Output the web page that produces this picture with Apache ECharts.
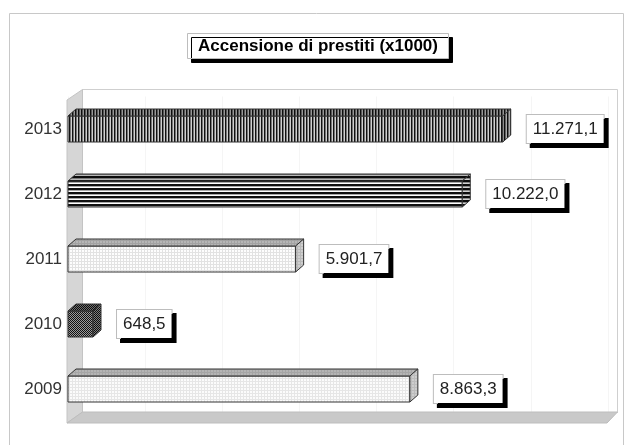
<!DOCTYPE html>
<html>
<head>
<meta charset="utf-8">
<script src="https://cdn.jsdelivr.net/npm/echarts@6/dist/echarts.min.js"></script>
<style>
html,body{margin:0;padding:0;background:#fff;}
#chart{width:627px;height:445px;}
</style>
</head>
<body>
<div id="chart"></div>
<script>
// ---- data ----
const titleText = 'Accensione di prestiti (x1000)';
const years = ['2009', '2010', '2011', '2012', '2013'];
const values = [8863.3, 648.5, 5901.7, 10222.0, 11271.1];
const axisMin = 0;
const axisMax = 14000;
const axisStep = 2000;

// ---- styles ----
const patternKinds = ['lightdots2', 'darkdots', 'lightdots', 'hstripe', 'vstripe'];
const FONT = '"Liberation Sans", Arial, sans-serif';

function makePattern(kind) {
  const c = document.createElement('canvas');
  const ctx = c.getContext('2d');
  if (kind === 'vstripe') {
    c.width = 3; c.height = 3;
    ctx.fillStyle = '#d0d0d0'; ctx.fillRect(0, 0, 3, 3);
    ctx.fillStyle = '#111'; ctx.fillRect(0, 0, 1, 3);
    ctx.fillStyle = '#777'; ctx.fillRect(1, 0, 1, 3);
  } else if (kind === 'hstripe') {
    c.width = 4; c.height = 4;
    ctx.fillStyle = '#fff'; ctx.fillRect(0, 0, 4, 4);
    ctx.fillStyle = '#111'; ctx.fillRect(0, 0, 4, 2);
    ctx.fillStyle = '#aaa'; ctx.fillRect(0, 2, 4, 1);
  } else if (kind === 'darkdots') {
    c.width = 2; c.height = 2;
    ctx.fillStyle = '#9a9a9a'; ctx.fillRect(0, 0, 2, 2);
    ctx.fillStyle = '#111'; ctx.fillRect(0, 0, 1, 1); ctx.fillRect(1, 1, 1, 1);
  } else if (kind === 'lightdots') {
    c.width = 3; c.height = 3;
    ctx.fillStyle = '#fdfdfd'; ctx.fillRect(0, 0, 3, 3);
    ctx.fillStyle = '#e2e2e2'; ctx.fillRect(0, 0, 3, 1); ctx.fillRect(0, 0, 1, 3);
  } else {
    c.width = 3; c.height = 3;
    ctx.fillStyle = '#fbfbfb'; ctx.fillRect(0, 0, 3, 3);
    ctx.fillStyle = '#e6e6e6'; ctx.fillRect(0, 0, 3, 1); ctx.fillRect(0, 0, 1, 3);
  }
  return c;
}
const patterns = patternKinds.map(k => ({ image: makePattern(k), repeat: 'repeat' }));

function fmtIt(v) {
  const parts = v.toFixed(1).split('.');
  return parts[0].replace(/\B(?=(\d{3})+(?!\d))/g, '.') + ',' + parts[1];
}

const seriesData = values.map((v, i) => [v, i]);

const BAR_H = 26, DX = 8, DY = -7;

function renderItem(params, api) {
  const idx = api.value(1);
  const val = api.value(0);
  const p0 = api.coord([axisMin, idx]);
  const p1 = api.coord([val, idx]);
  const x0 = p0[0], x1 = p1[0], cy = p0[1];
  const top = cy - BAR_H / 2, bot = cy + BAR_H / 2;
  const pat = patterns[idx];
  const stroke = '#333';
  const children = [
    { type: 'rect', shape: { x: x0, y: top, width: x1 - x0, height: BAR_H },
      style: { fill: pat, stroke: stroke, lineWidth: 1 } },
    { type: 'polygon', shape: { points: [[x0, top], [x0 + DX, top + DY], [x1 + DX, top + DY], [x1, top]] },
      style: { fill: pat, stroke: null } },
    { type: 'polygon', shape: { points: [[x0, top], [x0 + DX, top + DY], [x1 + DX, top + DY], [x1, top]] },
      style: { fill: 'rgba(0,0,0,0.28)', stroke: stroke, lineWidth: 1 } },
    { type: 'polygon', shape: { points: [[x1, top], [x1 + DX, top + DY], [x1 + DX, bot + DY], [x1, bot]] },
      style: { fill: pat, stroke: null } },
    { type: 'polygon', shape: { points: [[x1, top], [x1 + DX, top + DY], [x1 + DX, bot + DY], [x1, bot]] },
      style: { fill: 'rgba(0,0,0,0.18)', stroke: stroke, lineWidth: 1 } },
    { type: 'text', x: x1 + 24, y: cy,
      style: { text: fmtIt(val), font: '17px ' + FONT, fill: '#222',
        align: 'left', verticalAlign: 'middle',
        backgroundColor: '#fff', borderColor: '#bdbdbd', borderWidth: 1,
        padding: [6, 6, 5, 6],
        shadowColor: '#000', shadowBlur: 0, shadowOffsetX: 4, shadowOffsetY: 4 } }
  ];
  return { type: 'group', children: children };
}

const chart = echarts.init(document.getElementById('chart'), null, { renderer: 'canvas' });
chart.setOption({
  backgroundColor: '#fff',
  animation: false,
  title: {
    text: titleText,
    left: 187, top: 33,
    padding: [3, 11, 2, 11],
    backgroundColor: '#fff',
    borderColor: '#bdbdbd', borderWidth: 1,
    shadowColor: '#000', shadowBlur: 0, shadowOffsetX: 4, shadowOffsetY: 4,
    textStyle: { fontFamily: FONT, fontSize: 17, fontWeight: 'bold', color: '#000', lineHeight: 21 }
  },
  grid: { left: 68, right: 19, top: 96.5, height: 325 },
  xAxis: {
    type: 'value', min: axisMin, max: axisMax, interval: axisStep,
    axisLine: { show: false }, axisTick: { show: false }, axisLabel: { show: false },
    splitLine: { show: true, lineStyle: { color: '#f5f5f5' } }
  },
  yAxis: {
    type: 'category', data: years,
    axisLine: { show: false }, axisTick: { show: false },
    axisLabel: { fontFamily: FONT, fontSize: 17, color: '#333', margin: 6 }
  },
  graphic: [
    { type: 'rect', z: -20, silent: true,
      shape: { x: 9.5, y: 13.5, width: 614, height: 450 },
      style: { fill: '#fff', stroke: '#c8c8c8', lineWidth: 1 } },
    { type: 'rect', z: -10, silent: true,
      shape: { x: 82.5, y: 89.5, width: 535, height: 323 },
      style: { fill: '#fff', stroke: '#cfcfcf', lineWidth: 1 } },
    { type: 'polygon', z: 1, silent: true,
      shape: { points: [[67, 100], [82.5, 89.5], [82.5, 412], [67, 423]] },
      style: { fill: '#d6d6d6', stroke: '#c4c4c4', lineWidth: 1 } },
    { type: 'polygon', z: 1, silent: true,
      shape: { points: [[67, 423], [82.5, 412], [617.5, 412], [607, 423]] },
      style: { fill: '#c9c9c9', stroke: '#bdbdbd', lineWidth: 1 } }
  ],
  series: [{
    type: 'custom',
    renderItem: renderItem,
    encode: { x: 0, y: 1 },
    data: seriesData,
    z: 5,
    clip: false
  }]
});
</script>
</body>
</html>
